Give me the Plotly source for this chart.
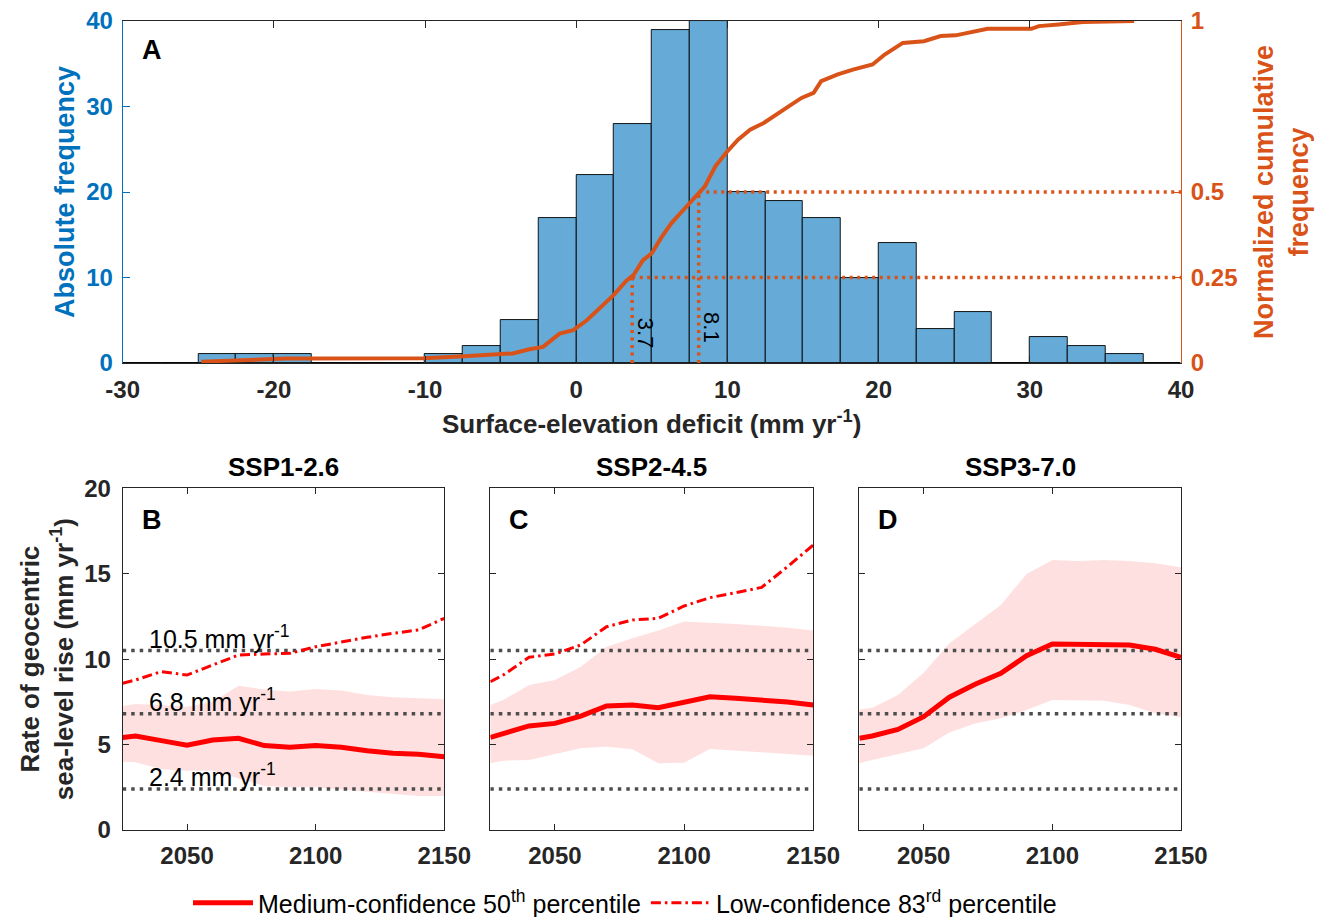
import plotly.graph_objects as go

W, H = 1325, 917

# ---------------- Panel A data ----------------
hist_bin_edges = [-30, -27.5, -25, -22.5, -20, -17.5, -15, -12.5, -10, -7.5, -5, -2.5, 0,
                  2.5, 5, 7.5, 10, 12.5, 15, 17.5, 20, 22.5, 25, 27.5, 30, 32.5, 35, 37.5, 40]
hist_counts = [0, 0, 1, 1, 1, 0, 0, 0, 1, 2, 5, 17, 22, 28, 39, 40, 20, 19, 17, 10, 14, 4, 6,
               0, 3, 2, 1, 0]

cdf_x = [-24.8, -22.6, -20.6, -19.2, -17.7, -10.1, -7.4, -5.6, -4.2, -3.1, -2.2, -1.1, -0.2,
         0.7, 1.8, 2.5, 3.3, 3.8, 4.4, 5.0, 5.6, 6.3, 7.1, 7.9, 8.5, 9.2, 9.9, 10.7, 11.5,
         12.4, 13.1, 13.9, 14.9, 15.7, 16.2, 17.3, 18.3, 19.6, 20.4, 21.6, 23.0, 24.1, 25.1,
         26.2, 27.2, 30.1, 30.6, 31.9, 33.5, 36.9]
cdf_y = [0.004, 0.008, 0.010, 0.013, 0.013, 0.014, 0.020, 0.024, 0.028, 0.040, 0.047, 0.086,
         0.096, 0.125, 0.169, 0.200, 0.240, 0.258, 0.300, 0.321, 0.365, 0.409, 0.448, 0.485,
         0.516, 0.575, 0.614, 0.653, 0.682, 0.702, 0.721, 0.746, 0.775, 0.790, 0.824, 0.844,
         0.858, 0.873, 0.902, 0.936, 0.941, 0.956, 0.958, 0.969, 0.977, 0.977, 0.985, 0.990,
         0.997, 1.0]

quantile_values = [3.7, 8.1]
quantile_levels = [0.25, 0.5]
quantile_labels = ["3.7", "8.1"]

xA_ticks = [-30, -20, -10, 0, 10, 20, 30, 40]
xA_ticktext = ["-30", "-20", "-10", "0", "10", "20", "30", "40"]
yA_ticks = [0, 10, 20, 30, 40]
yA2_ticks = [0, 0.25, 0.5, 1]
yA2_ticktext = ["0", "0.25", "0.5", "1"]

# ---------------- Panels B-D data ----------------
years = [2025, 2030, 2040, 2050, 2060, 2070, 2080, 2090, 2100, 2110, 2120, 2130, 2140, 2150]
scenarios = ["SSP1-2.6", "SSP2-4.5", "SSP3-7.0"]
panel_letters = ["B", "C", "D"]

median_ssp126 = [5.42, 5.50, 5.23, 4.96, 5.27, 5.37, 4.94, 4.84, 4.94, 4.84, 4.64, 4.49, 4.43, 4.29]
median_ssp245 = [5.42, 5.62, 6.09, 6.24, 6.67, 7.26, 7.32, 7.16, 7.51, 7.80, 7.71, 7.61, 7.49, 7.32]
median_ssp370 = [5.37, 5.50, 5.89, 6.63, 7.77, 8.53, 9.17, 10.20, 10.89, 10.89, 10.89, 10.83, 10.58, 10.11]

upper_ssp126 = [7.26, 7.38, 7.32, 7.22, 7.51, 8.45, 8.23, 8.10, 8.25, 8.16, 7.90, 7.77, 7.71, 7.65]
lower_ssp126 = [4.00, 3.96, 3.55, 3.47, 3.47, 3.02, 2.58, 2.50, 2.50, 2.34, 2.24, 2.11, 1.99, 1.99]
upper_ssp245 = [7.32, 7.61, 8.49, 8.78, 9.56, 10.73, 11.22, 11.67, 12.20, 12.14, 12.06, 11.96, 11.84, 11.67]
lower_ssp245 = [3.90, 4.06, 4.10, 4.45, 4.78, 4.88, 4.72, 3.90, 3.94, 4.74, 4.64, 4.55, 4.45, 4.35]
upper_ssp370 = [7.06, 7.16, 7.90, 9.21, 10.93, 12.06, 13.17, 14.99, 15.80, 15.75, 15.80, 15.75, 15.61, 15.38]
lower_ssp370 = [3.90, 4.10, 4.45, 4.78, 5.70, 6.24, 6.54, 7.02, 7.61, 7.57, 7.57, 7.32, 6.83, 6.60]

low83_ssp126 = [8.59, 8.78, 9.27, 9.07, 9.66, 10.24, 10.30, 10.34, 10.73, 11.02, 11.28, 11.51, 11.71, 12.39]
low83_ssp245 = [8.68, 9.07, 10.11, 10.30, 10.83, 11.90, 12.29, 12.39, 13.11, 13.60, 13.89, 14.20, 15.41, 16.68]
low83_ssp370 = None  # above the plotted range

thresholds = [10.5, 6.8, 2.4]
threshold_labels = ["10.5 mm yr<sup>-1</sup>", "6.8 mm yr<sup>-1</sup>", "2.4 mm yr<sup>-1</sup>"]

year_ticks = [2050, 2100, 2150]
rate_ticks = [0, 5, 10, 15, 20]

medians = [median_ssp126, median_ssp245, median_ssp370]
uppers = [upper_ssp126, upper_ssp245, upper_ssp370]
lowers = [lower_ssp126, lower_ssp245, lower_ssp370]
low83s = [low83_ssp126, low83_ssp245, low83_ssp370]

# ---------------- styles ----------------
FONT = "Liberation Sans, Arial, Helvetica, sans-serif"
DARK = "#262626"
BLUE = "#0072BD"
ORANGE = "#D95319"
BAR = "#66AAD7"
RED = "#FF0000"
BAND = "rgba(255,0,0,0.12)"
GRAY = "#4D4D4D"


def px(x):
    return x / W


def py(y):
    return 1 - y / H


# layout geometry (pixels)
A_x0, A_x1, A_y0, A_y1 = 122.7, 1181, 21, 363
bottom_y0, bottom_y1 = 488.3, 830
panel_x = [(122.7, 444.3), (490.3, 813.3), (859.3, 1181)]

fig = go.Figure()

# ---- Panel A ----
centers = [(hist_bin_edges[i] + hist_bin_edges[i + 1]) / 2 for i in range(len(hist_counts))]
widths = [hist_bin_edges[i + 1] - hist_bin_edges[i] for i in range(len(hist_counts))]
fig.add_trace(go.Bar(x=centers, y=hist_counts, width=widths, xaxis="x", yaxis="y",
                     marker=dict(color=BAR, line=dict(color="black", width=0.9)),
                     showlegend=False, hoverinfo="skip"))

xmax_A = hist_bin_edges[-1]
for qv, ql in zip(quantile_values, quantile_levels):
    fig.add_trace(go.Scatter(x=[qv, qv], y=[0, ql], xaxis="x", yaxis="y2", mode="lines",
                             line=dict(color=ORANGE, width=3.5, dash="3px,4.5px"),
                             showlegend=False, hoverinfo="skip"))
    fig.add_trace(go.Scatter(x=[qv, xmax_A], y=[ql, ql], xaxis="x", yaxis="y2", mode="lines",
                             line=dict(color=ORANGE, width=3.5, dash="3px,4.5px"),
                             showlegend=False, hoverinfo="skip"))

fig.add_trace(go.Scatter(x=cdf_x, y=cdf_y, xaxis="x", yaxis="y2", mode="lines",
                         line=dict(color=ORANGE, width=4), showlegend=False, hoverinfo="skip"))

annotations = []
for qv, lab, yl in zip(quantile_values, quantile_labels, [0.088, 0.103]):
    annotations.append(dict(x=qv, y=yl, xref="x", yref="y2", text=lab, showarrow=False,
                            textangle=90, xshift=13, xanchor="center", yanchor="middle",
                            font=dict(family=FONT, size=22, color="black")))

# ---- Panels B-D ----
for i in range(3):
    xa = "x%d" % (i + 2)
    ya = "y%d" % (i + 3)
    fig.add_trace(go.Scatter(x=years + years[::-1], y=uppers[i] + lowers[i][::-1],
                             xaxis=xa, yaxis=ya, fill="toself", fillcolor=BAND, mode="lines",
                             line=dict(width=0), showlegend=False, hoverinfo="skip"))
    for t in thresholds:
        fig.add_trace(go.Scatter(x=[years[0], years[-1]], y=[t, t], xaxis=xa, yaxis=ya,
                                 mode="lines", line=dict(color=GRAY, width=3.5, dash="3.5px,5px"),
                                 showlegend=False, hoverinfo="skip"))
    fig.add_trace(go.Scatter(x=years, y=medians[i], xaxis=xa, yaxis=ya, mode="lines",
                             line=dict(color=RED, width=5),
                             name="Medium-confidence 50<sup>th</sup> percentile",
                             showlegend=(i == 0), hoverinfo="skip"))
    if low83s[i] is not None:
        fig.add_trace(go.Scatter(x=years, y=low83s[i], xaxis=xa, yaxis=ya, mode="lines",
                                 line=dict(color=RED, width=3, dash="10px,4px,2.5px,4px"),
                                 name="Low-confidence 83<sup>rd</sup> percentile",
                                 showlegend=(i == 0), hoverinfo="skip"))

    x0, x1 = panel_x[i]
    annotations.append(dict(x=px((x0 + x1) / 2), y=py(467), xref="paper", yref="paper",
                            text=scenarios[i], showarrow=False,
                            xanchor="center", yanchor="middle",
                            font=dict(family=FONT, size=26, color="black", weight="bold")))
    annotations.append(dict(x=px(x0 + 29), y=py(520), xref="paper", yref="paper",
                            text=panel_letters[i], showarrow=False,
                            xanchor="center", yanchor="middle",
                            font=dict(family=FONT, size=27, color="black", weight="bold")))

for t, lab in zip(thresholds, threshold_labels):
    annotations.append(dict(x=2034.5, y=t, xref="x2", yref="y3", text=lab, showarrow=False,
                            xanchor="left", yanchor="middle", yshift=14,
                            font=dict(family=FONT, size=25, color="black")))

annotations += [
    dict(x=px(152), y=py(50), xref="paper", yref="paper", text="A", showarrow=False,
         xanchor="center", yanchor="middle",
         font=dict(family=FONT, size=27, color="black", weight="bold")),
    dict(x=px((A_x0 + A_x1) / 2), y=py(422), xref="paper", yref="paper",
         text="Surface-elevation deficit (mm yr<sup>-1</sup>)", showarrow=False,
         xanchor="center", yanchor="middle",
         font=dict(family=FONT, size=26, color=DARK, weight="bold")),
    dict(x=px(65), y=py((A_y0 + A_y1) / 2), xref="paper", yref="paper",
         text="Absolute frequency", showarrow=False, textangle=-90,
         xanchor="center", yanchor="middle",
         font=dict(family=FONT, size=27, color=BLUE, weight="bold")),
    dict(x=px(1282), y=py((A_y0 + A_y1) / 2), xref="paper", yref="paper",
         text="Normalized cumulative<br>frequency", showarrow=False, textangle=-90,
         xanchor="center", yanchor="middle",
         font=dict(family=FONT, size=27, color=ORANGE, weight="bold")),
    dict(x=px(47), y=py((bottom_y0 + bottom_y1) / 2), xref="paper", yref="paper",
         text="Rate of geocentric<br>sea-level rise (mm yr<sup>-1</sup>)", showarrow=False,
         textangle=-90, xanchor="center", yanchor="middle",
         font=dict(family=FONT, size=26, color=DARK, weight="bold")),
]

tickfont = dict(family=FONT, size=24, color=DARK, weight="bold")

layout = dict(
    width=W, height=H, margin=dict(l=0, r=0, t=0, b=0, autoexpand=False),
    paper_bgcolor="white", plot_bgcolor="white",
    font=dict(family=FONT, color=DARK),
    bargap=0,
    xaxis=dict(domain=[px(A_x0), px(A_x1)], anchor="y", range=[-30, 40],
               tickvals=xA_ticks, ticktext=xA_ticktext, automargin=False,
               ticks="inside", ticklen=7, tickcolor=DARK, showline=True, linecolor=DARK,
               linewidth=1, mirror="ticks", showgrid=False, zeroline=False,
               tickfont=tickfont, ticklabelstandoff=5),
    yaxis=dict(domain=[py(A_y1), py(A_y0)], anchor="x", range=[0, 40], automargin=False,
               tickvals=yA_ticks, ticks="inside", ticklen=7, tickcolor=BLUE,
               showline=True, linecolor=BLUE, linewidth=1, showgrid=False, zeroline=False,
               tickfont=dict(family=FONT, size=24, color=BLUE, weight="bold"),
               ticklabelstandoff=4),
    yaxis2=dict(overlaying="y", side="right", anchor="x", range=[0, 1], automargin=False,
                tickvals=yA2_ticks, ticktext=yA2_ticktext,
                ticks="inside", ticklen=7, tickcolor=ORANGE, showline=True, linecolor=ORANGE,
                linewidth=1, showgrid=False, zeroline=False,
                tickfont=dict(family=FONT, size=24, color=ORANGE, weight="bold"),
                ticklabelstandoff=4),
    legend=dict(orientation="h", x=px(625), xanchor="center", y=py(903), yanchor="middle",
                font=dict(family=FONT, size=25, color="black"), bgcolor="rgba(0,0,0,0)",
                itemwidth=60, tracegroupgap=0),
    annotations=annotations,
)

for i in range(3):
    x0, x1 = panel_x[i]
    layout["xaxis%d" % (i + 2)] = dict(
        domain=[px(x0), px(x1)], anchor="y%d" % (i + 3), range=[years[0], years[-1]],
        tickvals=year_ticks, ticks="inside", ticklen=6, tickcolor=DARK, automargin=False,
        showline=True, linecolor=DARK, linewidth=1, mirror="ticks", showgrid=False,
        zeroline=False, tickfont=tickfont, ticklabelstandoff=4)
    layout["yaxis%d" % (i + 3)] = dict(
        domain=[py(bottom_y1), py(bottom_y0)], anchor="x%d" % (i + 2), range=[0, 20],
        tickvals=rate_ticks, ticks="inside", ticklen=6, tickcolor=DARK, automargin=False,
        showline=True, linecolor=DARK, linewidth=1, mirror="ticks", showgrid=False,
        zeroline=False, tickfont=tickfont, showticklabels=(i == 0), ticklabelstandoff=6)

fig.update_layout(**layout)
fig.write_html("out.html")
